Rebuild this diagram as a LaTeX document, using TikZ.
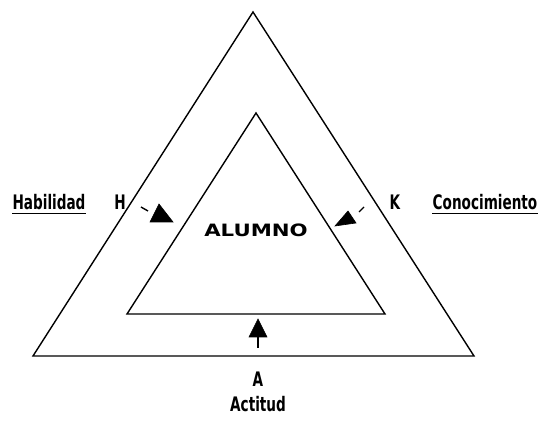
\documentclass[tikz,border=0pt]{standalone}
\usepackage{fontspec}
\usetikzlibrary{calc}
\newfontfamily\narrowbold[FakeStretch=0.68]{DejaVu Sans Bold}
\newfontfamily\widebold[FakeStretch=1.25]{DejaVu Sans Bold}
\begin{document}
\begin{tikzpicture}[x=1pt,y=-1pt]
\tikzset{
  tri/.style={draw=black,line width=1.4pt,line join=miter},
  lab/.style={font=\narrowbold\fontsize{20}{20}\selectfont,inner sep=0pt,anchor=base},
  uline/.style={line width=1.6pt},
  head/.style={fill=black,draw=black,line width=0.6pt,line join=miter},
  stem/.style={line width=1.4pt}
}
\useasboundingbox (0,0) rectangle (544,435);
% triangles
\coordinate (oA) at (253,12);
\coordinate (oL) at (33,356);
\coordinate (oR) at (474,356);
\coordinate (iA) at (256,113);
\coordinate (iL) at (127,314);
\coordinate (iR) at (385,314);
\draw[tri] (oA) -- (oL) -- (oR) -- cycle;
\draw[tri] (iA) -- (iL) -- (iR) -- cycle;
% center
\node[font=\widebold\fontsize{17}{17}\selectfont,inner sep=0pt,anchor=base] (alumno) at (256,237) {ALUMNO};
% labels
\node[lab] (hab) at (49,210) {Habilidad};
\draw[uline] ($(hab.base west)+(0,3.5)$) coordinate (hu1) -- ($(hab.base east)+(0,3.5)$) coordinate (hu2);
\node[lab] (h) at (120,210) {H};
\node[lab] (k) at (395,210) {K};
\node[lab] (con) at (485,210) {Conocimiento};
\draw[uline] ($(con.base west)+(0,3.5)$) coordinate (cu1) -- ($(con.base east)+(0,3.5)$) coordinate (cu2);
\node[lab] (a) at (258,387) {A};
\node[lab] (act) at (258,412) {Actitud};
% left arrow
\coordinate (d1a) at (141,207);
\coordinate (d1b) at (148,211);
\draw[stem] (d1a) -- (d1b);
\coordinate (t1a) at (159,204);
\coordinate (t1b) at (150,222);
\coordinate (t1c) at (173,222);
\filldraw[head] (t1a) -- (t1b) -- (t1c) -- cycle;
% right arrow
\coordinate (d2a) at (364,207);
\coordinate (d2b) at (359,212);
\draw[stem] (d2a) -- (d2b);
\coordinate (t2a) at (348,211);
\coordinate (t2b) at (356,223);
\coordinate (t2c) at (335,226);
\filldraw[head] (t2a) -- (t2b) -- (t2c) -- cycle;
% bottom arrow
\coordinate (d3a) at (258,348);
\coordinate (d3b) at (258,336);
\draw[stem] (d3a) -- (d3b);
\coordinate (t3a) at (258,319);
\coordinate (t3b) at (249,337);
\coordinate (t3c) at (267,337);
\filldraw[head] (t3a) -- (t3b) -- (t3c) -- cycle;
\end{tikzpicture}
\end{document}
